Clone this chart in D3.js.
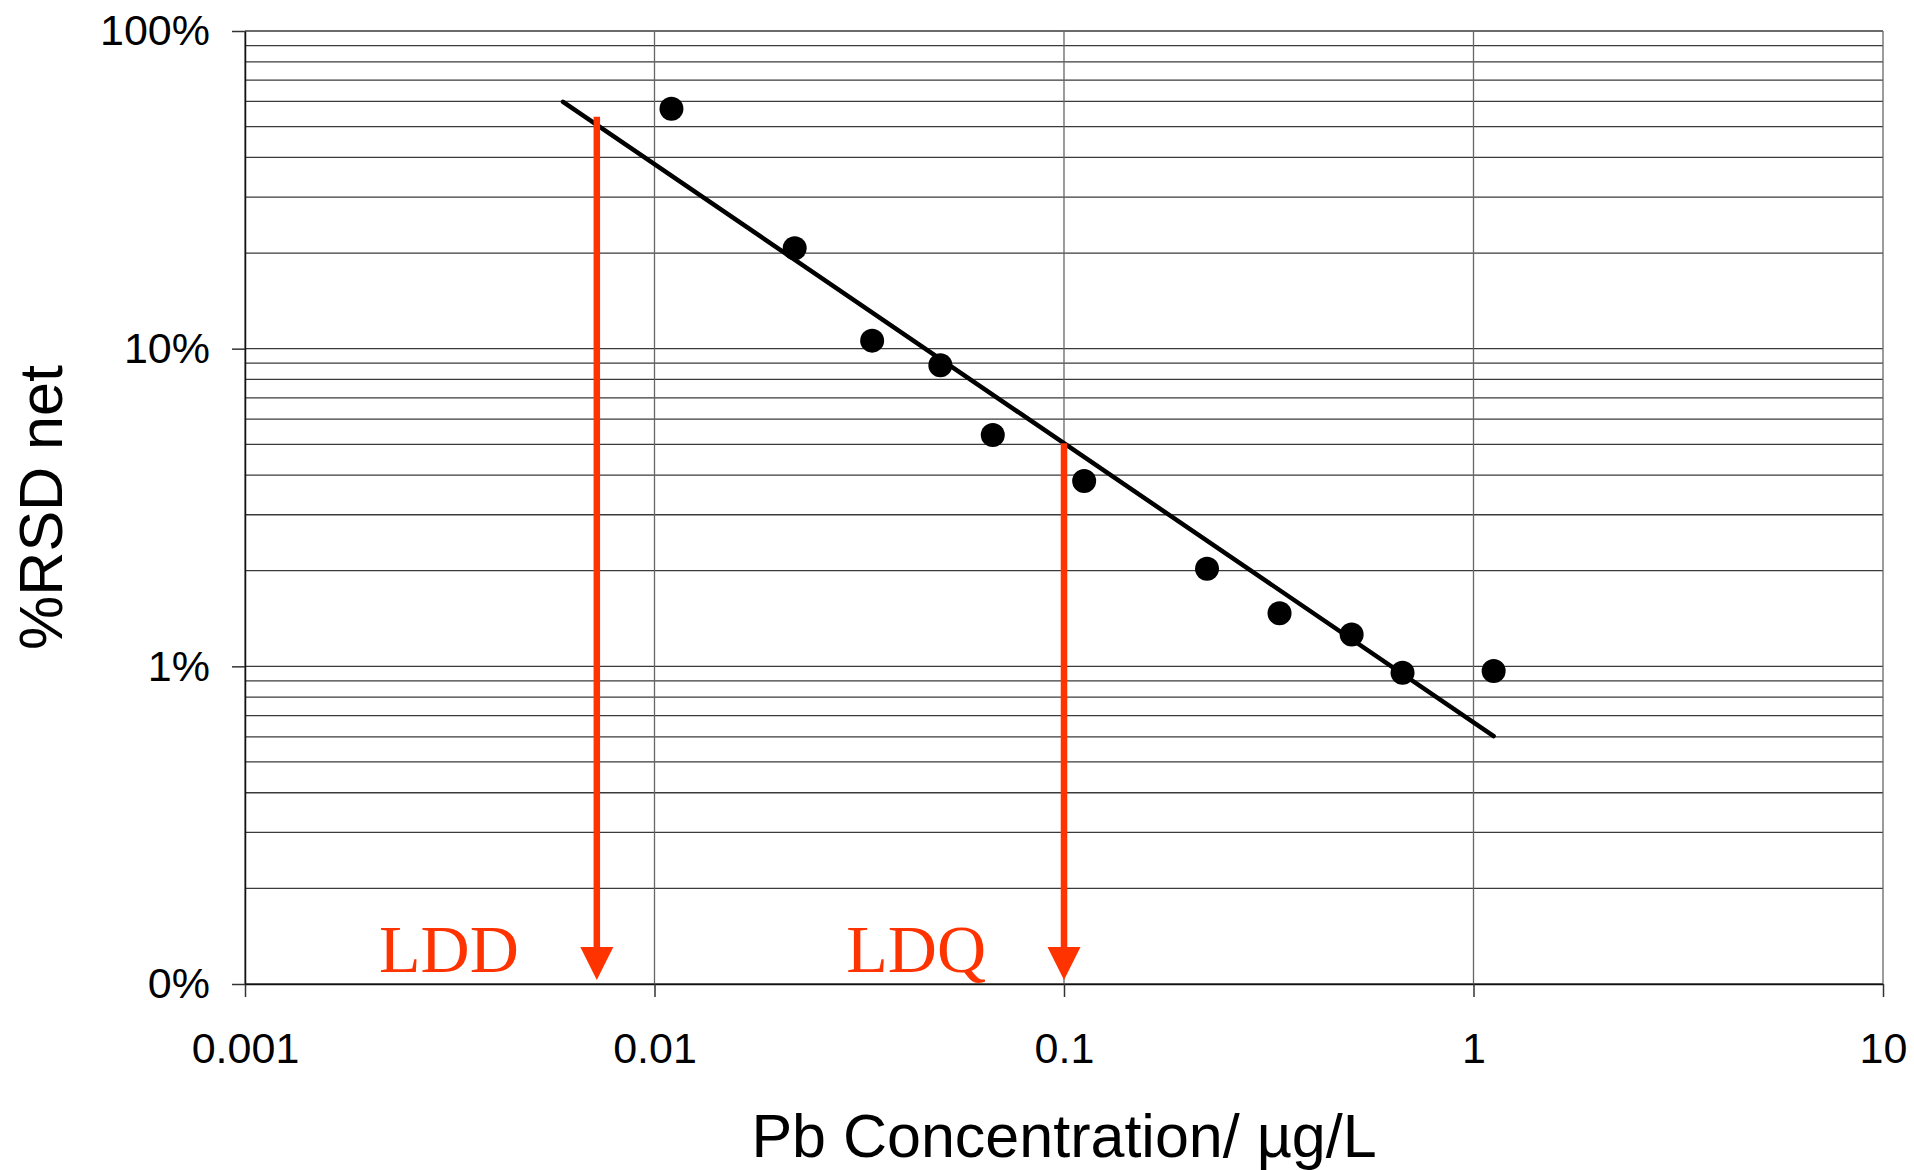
<!DOCTYPE html>
<html>
<head>
<meta charset="utf-8">
<script src="https://cdn.jsdelivr.net/npm/d3@7"></script>
<style>
    body { margin: 0; background: #fff; }
    svg text { font-family: "Liberation Sans", Arial, sans-serif; }
</style>
</head>
<body>
<div id="chart-container"></div>
<script>
/*
    %RSD net vs Pb concentration, log-log, with LDD / LDQ markers
 */

// measured points
var concentration = [0.0110, 0.0220, 0.0340, 0.0499, 0.0670, 0.1120, 0.2235, 0.336, 0.504, 0.671, 1.12];
var rsd_net = [56.9, 20.7, 10.6, 8.87, 5.35, 3.83, 2.03, 1.47, 1.26, 0.955, 0.967];

// power trend line drawn between these concentrations
var trend_range = [0.00598, 1.12];

// detection / quantification limits
var limit_names = ['LDD', 'LDQ'];
var limit_x = [0.00723, 0.1];
var limit_top = [53.7, 5.04];

// axes
var x_ticks = [0.001, 0.01, 0.1, 1, 10];
var x_tick_labels = ['0.001', '0.01', '0.1', '1', '10'];
var y_ticks = [0.1, 1, 10, 100];
var y_tick_labels = ['0%', '1%', '10%', '100%'];

var svg_size = {
    'width': 1914,
    'height': 1170
};

var plot = {
    'left': 245,
    'right': 1883,
    'top': 31,
    'bottom': 984
};

var svg = d3.select("#chart-container")
    .append("svg")
    .attr('width', svg_size.width)
    .attr('height', svg_size.height);

var x_scale = d3.scaleLog()
    .domain([0.001, 10])
    .range([plot.left, plot.right]);

var y_scale = d3.scaleLog()
    .domain([0.1, 100])
    .range([plot.bottom, plot.top]);

// horizontal grid: every 1..9 step of each decade
var y_grid = [];
y_ticks.forEach(function(d){
    for (var k = 1; k <= 9; k++) {
        var v = d * k;
        if (v <= 100.0001) y_grid.push(v);
    }
});

svg.append('g')
    .selectAll('line')
    .data(y_grid)
    .enter()
    .append('line')
    .attr('x1', plot.left)
    .attr('x2', plot.right)
    .attr('y1', function(d){ return y_scale(d); })
    .attr('y2', function(d){ return y_scale(d); })
    .style('stroke', '#3a3a3a')
    .style('stroke-width', 1.3);

svg.append('g')
    .selectAll('line')
    .data(x_ticks)
    .enter()
    .append('line')
    .attr('x1', function(d){ return x_scale(d); })
    .attr('x2', function(d){ return x_scale(d); })
    .attr('y1', plot.top)
    .attr('y2', plot.bottom)
    .style('stroke', '#666')
    .style('stroke-width', 1.3);

// axes
var x_axis = d3.axisBottom(x_scale)
    .tickValues(x_ticks)
    .tickFormat(function(d, i){ return x_tick_labels[i]; })
    .tickSizeInner(13)
    .tickSizeOuter(0)
    .tickPadding(35);

var y_axis = d3.axisLeft(y_scale)
    .tickValues(y_ticks)
    .tickFormat(function(d, i){ return y_tick_labels[i]; })
    .tickSizeInner(13)
    .tickSizeOuter(0)
    .tickPadding(22);

var x_axis_group = svg.append('g')
    .attr('transform', 'translate(0,' + plot.bottom + ')')
    .call(x_axis);

var y_axis_group = svg.append('g')
    .attr('transform', 'translate(' + plot.left + ',0)')
    .call(y_axis);

[x_axis_group, y_axis_group].forEach(function(g){
    g.select('.domain').style('stroke', '#111').style('stroke-width', 1.5);
    g.selectAll('.tick line').style('stroke', '#333').style('stroke-width', 1.5);
    g.selectAll('.tick text')
        .style('font-family', '"Liberation Sans", Arial, sans-serif')
        .style('font-size', '43px')
        .style('fill', '#000');
});

// power trend line from least squares in log-log space
var lx = concentration.map(function(d){ return Math.log10(d); });
var ly = rsd_net.map(function(d){ return Math.log10(d); });
var mx = d3.mean(lx), my = d3.mean(ly);
var sxy = d3.sum(lx, function(d, i){ return (d - mx) * (ly[i] - my); });
var sxx = d3.sum(lx, function(d){ return (d - mx) * (d - mx); });
var slope = sxy / sxx;
var intercept = my - slope * mx;
var trend = function(x){ return Math.pow(10, intercept + slope * Math.log10(x)); };

svg.append('line')
    .attr('x1', x_scale(trend_range[0]))
    .attr('y1', y_scale(trend(trend_range[0])))
    .attr('x2', x_scale(trend_range[1]))
    .attr('y2', y_scale(trend(trend_range[1])))
    .style('stroke', '#000')
    .style('stroke-width', 4.5)
    .style('stroke-linecap', 'round');

// limit arrows
var limit_group = svg.append('g');
var arrow_tip = y_scale(0.1) - 4;

limit_names.forEach(function(name, i){
    var ax = x_scale(limit_x[i]);
    limit_group.append('line')
        .attr('x1', ax)
        .attr('x2', ax)
        .attr('y1', y_scale(limit_top[i]))
        .attr('y2', arrow_tip - 30)
        .style('stroke', '#ff3300')
        .style('stroke-width', 6.5);
    limit_group.append('path')
        .attr('d', 'M' + (ax - 16.5) + ',' + (arrow_tip - 33) +
                   'L' + (ax + 16.5) + ',' + (arrow_tip - 33) +
                   'L' + ax + ',' + arrow_tip + 'Z')
        .style('fill', '#ff3300');
    limit_group.append('text')
        .attr('x', ax - 78)
        .attr('y', arrow_tip - 8)
        .attr('text-anchor', 'end')
        .style('font-family', '"Liberation Serif", "Times New Roman", serif')
        .style('font-size', '68px')
        .style('fill', '#ff3300')
        .text(name);
});

// points
svg.append('g')
    .selectAll('circle')
    .data(concentration)
    .enter()
    .append('circle')
    .attr('cx', function(d){ return x_scale(d); })
    .attr('cy', function(d, i){ return y_scale(rsd_net[i]); })
    .attr('r', 12)
    .style('fill', '#000');

// axis titles
svg.append('text')
    .attr('x', (plot.left + plot.right) / 2)
    .attr('y', 1157)
    .attr('text-anchor', 'middle')
    .style('font-size', '61px')
    .text('Pb Concentration/ µg/L');

svg.append('text')
    .attr('transform', 'translate(62,' + ((plot.top + plot.bottom) / 2) + ') rotate(-90)')
    .attr('text-anchor', 'middle')
    .style('font-size', '61px')
    .text('%RSD net');
</script>
</body>
</html>
